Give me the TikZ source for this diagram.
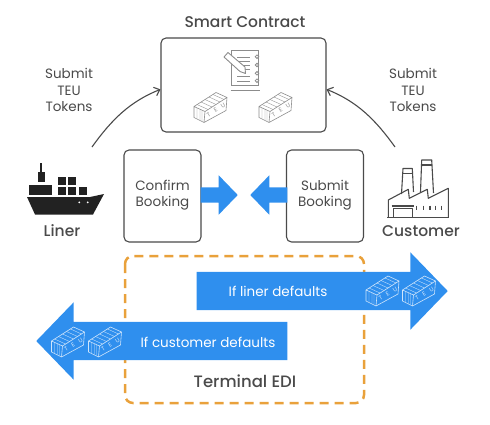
\documentclass[tikz,border=0pt]{standalone}
\usepackage{fontspec}
\setmainfont{Poppins}
\newfontfamily\labelfont{Poppins Medium}
\newfontfamily\cratefont[LetterSpace=85]{Poppins}
\usetikzlibrary{positioning,arrows.meta,shapes.arrows}
\definecolor{inkgrey}{HTML}{4A4A4A}
\definecolor{iconblack}{HTML}{222222}
\definecolor{teublue}{HTML}{2F8FEE}
\definecolor{edidash}{HTML}{E9A13B}
\definecolor{crategrey}{HTML}{8C8C8C}
\definecolor{cratewhite}{HTML}{CFE5FB}
\tikzset{
  pics/teucrate/.style={code={
    \draw[#1, line width=0.6pt, line join=round]
      (-16,-1) -- (6,-15) -- (17,-10) -- (16,3) -- (-6,15) -- (-16,10) -- cycle
      (-16,-1) -- (-5,4) -- (17,-10)  (-5,4) -- (-6,15);
    \draw[#1, line width=0.35pt]
      (-13,-3) -- (-2,2)  (-9,-5.5) -- (2,-0.5)  (-5,-8) -- (6,-3)  (-1,-10.5) -- (10,-5.5)  (3,-13) -- (14,-8)
      (-13,0.5) -- (-13,11)  (-10,1.5) -- (-10,12.5)  (-8,2.5) -- (-8,13.5);
    \node[text=#1, font=\cratefont\fontsize{6}{6}\selectfont, rotate=31, inner sep=0pt] at (6,2.5) {TEU};
  }},
}
\begin{document}
\begin{tikzpicture}[
  x=1pt, y=-1pt,
  every node/.style={font=\fontsize{13.5}{16.5}\selectfont, text=inkgrey},
  bookingbox/.style={
    draw=inkgrey, rounded corners=5pt, line width=1.1pt, align=center,
    minimum width=77pt, minimum height=92pt, inner sep=0pt,
  },
  contractbox/.style={
    draw=inkgrey, rounded corners=5pt, line width=1.1pt,
    minimum width=165pt, minimum height=94pt, inner sep=0pt,
  },
  arrow/.style={-{Straight Barb[length=5pt,width=9pt]}, line width=1.1pt, draw=inkgrey},
  bigarrow/.style={
    single arrow, fill=teublue, inner sep=0pt, single arrow tip angle=92, anchor=tip,
    text height=38pt, text depth=0pt, minimum height=251pt, single arrow head extend=19.5pt,
  },
  smallarrow/.style={
    single arrow, fill=teublue, inner sep=0pt, single arrow tip angle=92, anchor=tip,
    text height=15pt, text depth=0pt, minimum height=37pt, single arrow head extend=12pt,
  },
  actorlabel/.style={font=\labelfont\fontsize{15.5}{18}\selectfont},
  arrowlabel/.style={text=white},
  icon/.style={draw=inkgrey, line width=1.1pt, line join=round},
  pageline/.style={draw=crategrey, line width=0.8pt},
]
  \useasboundingbox (0,0) rectangle (490,424);

  % terminal frame goes under the blue arrows
  \draw[draw=edidash, line width=2.5pt, dash pattern=on 9pt off 6pt, rounded corners=8pt]
    (125,256) rectangle (364,403);

  \node[contractbox] (contract) at (243.5,85) {};
  \node[actorlabel] (contracttitle) at (245,22) {Smart Contract};
  \node[bookingbox] (confirm) at (162.5,196) {};
  \node[bookingbox] (submit) at (325,196) {};
  \node (confirmtext) at (162.5,195) [align=center] {Confirm\\Booking};
  \node (submittext) at (325,195) [align=center] {Submit\\Booking};

  \node[smallarrow] (confirmarrow) at (238,195) {};
  \node[smallarrow, shape border rotate=180] (submitarrow) at (250,195) {};

  \node[bigarrow] (linerarrow) at (448,291) {};
  \node[bigarrow, shape border rotate=180] (customerarrow) at (36,341) {};
  \node[arrowlabel] (linertext) at (278,291) {If liner defaults};
  \node[arrowlabel] (customertext) at (208,342) {If customer defaults};
  \node[actorlabel, font=\labelfont\fontsize{16.5}{18}\selectfont] (edi) at (245,381) {Terminal EDI};

  \node (linersubmit) at (69,90) [align=center] {Submit\\TEU\\Tokens};
  \node (customersubmit) at (413,90) [align=center] {Submit\\TEU\\Tokens};
  \node[actorlabel] (liner) at (62,231) {Liner};
  \node[actorlabel] (customer) at (421,231) {Customer};

  \coordinate (linerup) at (92,147);
  \coordinate (customerup) at (395,147);
  \draw[arrow] (linerup) .. controls +(20,-28) and +(-30,12) .. (contract.183);
  \draw[arrow] (customerup) .. controls +(-20,-28) and +(30,12) .. (contract.357);

  % containers
  \pic at (210,107.5) {teucrate=crategrey};
  \pic at (275,107.5) {teucrate=crategrey};
  \pic at (382,291) {teucrate=cratewhite};
  \pic at (418.5,291) {teucrate=cratewhite};
  \pic at (67.5,342) {teucrate=cratewhite};
  \pic at (104.5,342) {teucrate=cratewhite};

  % notepad and pen
  \draw[draw=crategrey, line width=0.9pt] (231,50) rectangle (258,85);
  \draw[draw=crategrey, line width=0.9pt] (230.5,90) -- (259.5,90);
  \foreach \ringy in {56.7,65,73.3,80.7}
    \draw[draw=crategrey, line width=0.8pt, fill=white] (257,\ringy) circle (1.8);
  \foreach \liney in {57,61,65,69,76.5,81}
    \draw[pageline] (237,\liney) -- (250,\liney);
  \draw[draw=crategrey, line width=0.9pt, fill=white, line join=round]
    (224,57) -- (228,52.5) -- (245,67) -- (245.5,73.5) -- (240,71.5) -- cycle;

  % ship
  \fill[iconblack] (27,197) -- (90,197) -- (104,194) -- (93,214.5) -- (35,214.5) -- cycle;
  \fill[iconblack] (29,184.5) rectangle (52,195);
  \fill[iconblack] (37.5,172) rectangle (44.5,182);
  \fill[iconblack] (40,163) rectangle (41.5,172);
  \foreach \boxx/\boxy in {58.3/177.3,68.3/177.3,58.3/187.3,68.3/187.3,79/187.3}
    \fill[iconblack] (\boxx,\boxy) rectangle +(8,7.7);
  \fill[white] (79.3,202.3) circle (1) (87.7,202.3) circle (1);

  % factory
  \draw[icon] (387.3,217.7) -- (449,217.7);
  \draw[icon] (388.3,217.7) -- (388.3,200) -- (408.3,189.3) -- (409.3,198.3) -- (427.3,189.3)
    -- (428.3,198.3) -- (448.3,188.3) -- (448.3,217.7);
  \draw[icon] (401.5,194) -- (403,168.5) -- (412.3,168.5) -- (413.5,192);
  \draw[icon] (420.5,192) -- (421.7,160) -- (431.7,160) -- (433.5,193);
  \draw[icon] (402.5,173.5) -- (412.5,173.5)  (421.5,165) -- (432,165);
  \draw[icon] (393.3,217.7) -- (393.3,208.3) -- (412.3,208.3) -- (412.3,217.7);
  \draw[icon] (391.5,206) -- (413.5,206);
  \foreach \tickx in {416.7,423.3,430,435.7,441.7}
    \draw[icon] (\tickx,205.7) -- (\tickx,210);
\end{tikzpicture}
\end{document}
